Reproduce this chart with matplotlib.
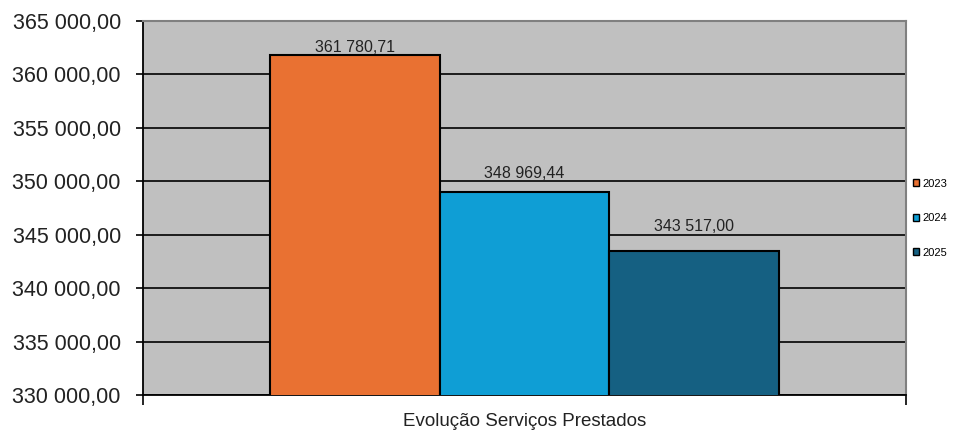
import matplotlib.pyplot as plt
import numpy as np

plt.rcParams['font.family'] = ['Liberation Sans', 'DejaVu Sans']

anos = ['2023', '2024', '2025']
valores = [361780.71, 348969.44, 343517.00]
categoria = 'Evolução Serviços Prestados'
y_ticks = [330000, 335000, 340000, 345000, 350000, 355000, 360000, 365000]

cores = ['#E97132', '#0F9ED5', '#156082']
label_offsets = [0, 8, 12]


def fmt(v):
    s = f"{v:,.2f}"
    return s.replace(',', ' ').replace('.', ',')


fig = plt.figure(figsize=(9.54, 4.32), dpi=100)
ax = fig.add_axes([143 / 954, 37 / 432, 763 / 954, 374 / 432])
ax.set_facecolor('#C0C0C0')

x = np.arange(len(anos))
bars = ax.bar(x, valores, width=1.0, color=cores, edgecolor='black', linewidth=1.5,
              label=anos, zorder=3)

for b, v, off in zip(bars, valores, label_offsets):
    ax.annotate(fmt(v), (b.get_x() + b.get_width() / 2, b.get_height()),
                xytext=(0, off), textcoords='offset points', ha='center', va='bottom',
                fontsize=11.5, color='#222222', zorder=4)

ax.set_ylim(y_ticks[0], y_ticks[-1])
ax.set_yticks(y_ticks)
ax.set_yticklabels([fmt(t) for t in y_ticks], fontsize=15.5, color='#222222')
ax.yaxis.grid(True, color='black', linewidth=1.2, zorder=1)
ax.tick_params(axis='y', length=5, width=1.2, color='black', pad=11)

ax.set_xlim(-1.245, 3.245)
ax.set_xticks([1])
ax.set_xticklabels([categoria], fontsize=13.5, color='#222222')
ax.tick_params(axis='x', length=0, pad=13)
ax.set_xticks([-1.245, 3.245], minor=True)
ax.tick_params(axis='x', which='minor', length=7, width=1.2, color='black')

for s in ['left', 'bottom']:
    ax.spines[s].set_color('black')
    ax.spines[s].set_linewidth(1.3)
for s in ['top', 'right']:
    ax.spines[s].set_color('#808080')
    ax.spines[s].set_linewidth(1.5)

leg = ax.legend(handles=bars, labels=anos, loc='center left', bbox_to_anchor=(1.003, 0.473),
                frameon=True, fancybox=False, edgecolor='white', facecolor='white',
                fontsize=8, handlelength=0.6, handleheight=0.6, handletextpad=0.25,
                labelspacing=2.2, borderpad=0.4, borderaxespad=0)
for h in leg.legend_handles:
    h.set_linewidth(1.0)

fig.savefig('out.png', dpi=100)
